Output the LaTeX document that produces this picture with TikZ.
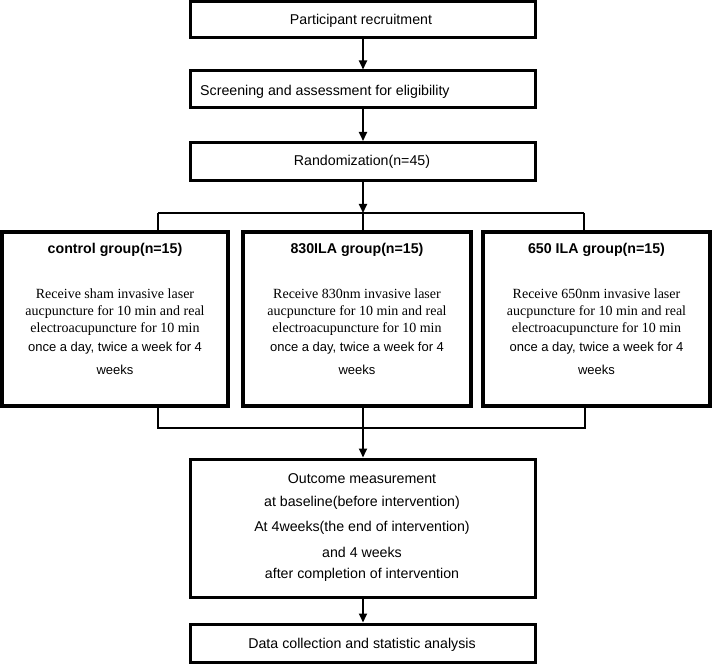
\documentclass[tikz,border=0pt]{standalone}
\usepackage{fontspec}
\setmainfont{Liberation Serif}
\setsansfont{Liberation Sans}
\usetikzlibrary{arrows.meta,calc}
\begin{document}
\begin{tikzpicture}[x=1pt,y=1pt,
  box/.style={draw, line width=3pt, minimum width=345pt, inner sep=0pt},
  gbox/.style={draw, line width=4pt, minimum height=174pt, inner sep=0pt},
  stxt/.style={font=\sffamily\fontsize{14.2}{16}\selectfont, inner sep=0pt},
  ttl/.style={font=\sffamily\bfseries\fontsize{14.2}{16}\selectfont, inner sep=0pt},
  rtxt/.style={font=\rmfamily\fontsize{14}{16}\selectfont, inner sep=0pt},
  otxt/.style={font=\sffamily\fontsize{13}{15}\selectfont, inner sep=0pt},
  conn/.style={line width=2pt},
  arr/.style={line width=2pt, -{Triangle[length=9pt,width=8pt]}}]
\useasboundingbox (0,0) rectangle (712,665);
% top boxes
\node[box, minimum height=36pt] (b1) at (362.5,645) {};
\node[stxt] (t1) at (361,644) {Participant recruitment};
\node[box, minimum height=37pt] (b2) at (362.5,575.5) {};
\node[stxt, anchor=west] (t2) at (200,573) {Screening and assessment for eligibility};
\node[box, minimum height=38pt] (b3) at (362.5,503.5) {};
\node[stxt] (t3) at (362,503) {Randomization(n=45)};
% group boxes
\node[gbox, minimum width=226pt] (g1) at (115,346) {};
\node[gbox, minimum width=228pt] (g2) at (357,346) {};
\node[gbox, minimum width=227pt] (g3) at (596.5,346) {};
\foreach \g/\t/\w in {g1/control group(n=15)/sham, g2/830ILA group(n=15)/830nm, g3/650 ILA group(n=15)/650nm}{
  \node[ttl] (\g t) at ($(\g.north)+(0,-20)$) {\t};
  \node[rtxt] (\g a) at ($(\g.north)+(0,-64)$) {Receive \w\ invasive laser};
  \node[rtxt] (\g b) at ($(\g.north)+(0,-82)$) {aucpuncture for 10 min and real};
  \node[rtxt] (\g c) at ($(\g.north)+(0,-99)$) {electroacupuncture for 10 min};
  \node[otxt] (\g d) at ($(\g.north)+(0,-118)$) {once a day, twice a week for 4};
  \node[otxt] (\g e) at ($(\g.north)+(0,-140)$) {weeks};
}
% lower boxes
\node[box, minimum height=138pt] (b5) at (362.5,137) {};
\node[stxt] (o1) at (362,186) {Outcome measurement};
\node[stxt] (o2) at (362,162) {at baseline(before intervention)};
\node[stxt] (o3) at (362,137) {At 4weeks(the end of intervention)};
\node[stxt] (o4) at (362,113) {and 4 weeks};
\node[stxt] (o5) at (362,90) {after completion of intervention};
\node[box, minimum height=38pt] (b6) at (362.5,22) {};
\node[stxt] (t6) at (362,20) {Data collection and statistic analysis};
% connectors
\coordinate (ax) at (363,0);
\coordinate (bus1) at (363,452);
\coordinate (busL) at (158,452);
\coordinate (busR) at (584,452);
\coordinate (bus2) at (363,237);
\coordinate (bus2L) at (158,237);
\coordinate (bus2R) at (585,237);
\draw[arr] (b1.south -| ax) -- (b2.north -| ax);
\draw[arr] (b2.south -| ax) -- (b3.north -| ax);
\draw[arr] (b3.south -| ax) -- (bus1);
\draw[conn] (bus1) -- (g2.north -| ax);
\draw[conn] (busL) -- (busR);
\draw[conn] (busL) -- (g1.north -| busL);
\draw[conn] (busR) -- (g3.north -| busR);
\draw[conn] (g1.south -| bus2L) -- (bus2L) -- (bus2R) -- (g3.south -| bus2R);
\draw[conn] (g2.south -| bus2) -- (bus2);
\draw[arr] (bus2) -- (b5.north -| ax);
\draw[arr] (b5.south -| ax) -- (b6.north -| ax);
\end{tikzpicture}
\end{document}
